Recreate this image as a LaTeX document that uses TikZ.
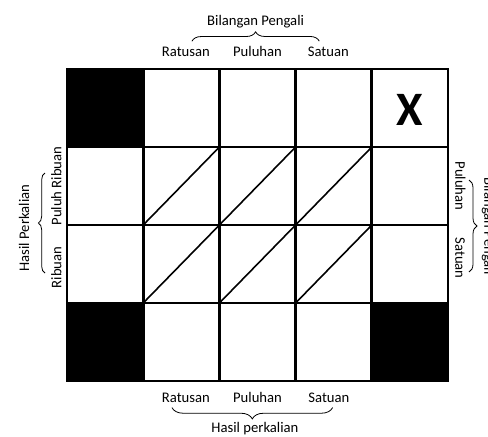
\documentclass[tikz,border=0pt]{standalone}
\usepackage{fontspec}
\setmainfont{Carlito}
\usepackage{tikz}
\usetikzlibrary{positioning, calc, decorations.pathreplacing}

\begin{document}
\begin{tikzpicture}[x=0.75pt, y=-0.75pt, font=\fontsize{11}{13}\selectfont,
    cell/.style={draw, line width=2.2pt, minimum width=57.15pt, minimum height=58.5pt, inner sep=0pt, outer sep=0pt},
    diag/.style={line width=1.2pt},
    lbl/.style={inner sep=1pt},
    brc/.style={decorate, decoration={brace, amplitude=#1}, line width=0.6pt}]
  \useasboundingbox (0,0) rectangle (488,436);
  \foreach \i in {0,...,4}
    \foreach \j in {0,...,3}
      \node[cell] (c\i\j) at ({105.1+76.2*\i},{108+78*\j}) {};
  \fill (c00.south west) rectangle (c00.north east);
  \fill (c03.south west) rectangle (c03.north east);
  \fill (c43.south west) rectangle (c43.north east);
  \foreach \i in {1,2,3}
    \foreach \j in {1,2}
      \draw[diag] (c\i\j.south west) -- (c\i\j.north east);
  \node[font=\fontsize{36}{40}\selectfont\bfseries] (kali) at ([yshift=-1.5pt]c40) {X};

  \node[lbl, above=7.8pt of c20] (pt) {Puluhan};
  \node[lbl, base left=15pt of pt] (rt) {Ratusan};
  \node[lbl, base right=17pt of pt] (st) {Satuan};
  \draw[brc=7pt] ([xshift=4.5pt,yshift=3.5pt]rt.north) -- ([xshift=-6.75pt,yshift=3.5pt]st.north)
    node[lbl, midway, above=8.3pt] (bp) {Bilangan Pengali};

  \node[lbl, below=7pt of c23] (pb) {Puluhan};
  \node[lbl, base left=15pt of pb] (rtb) {Ratusan};
  \node[lbl, base right=17.5pt of pb] (stb) {Satuan};
  \draw[brc=8.5pt] ([xshift=2.8pt,yshift=-2.8pt]stb.south) -- ([xshift=-10.5pt,yshift=-2.8pt]rtb.south)
    node[lbl, midway, below=10pt, xshift=2pt] (hb) {Hasil perkalian};

  \node[lbl, rotate=90, anchor=south] (pr) at ([xshift=-3pt]c01.west) {Puluh Ribuan};
  \node[lbl, rotate=90, anchor=south] (rib) at ([xshift=-3pt,yshift=-2.6pt]c02.west) {Ribuan};
  \coordinate (lb1) at ([xshift=-16.5pt,yshift=-6.75pt]c02.west);
  \coordinate (lb2) at ([xshift=-16.5pt,yshift=9.75pt]c01.west);
  \draw[brc=5pt] (lb1) -- (lb2);
  \node[lbl, rotate=90, anchor=south] (hp) at ($(lb1)!0.5!(lb2)+(-10.7pt,-3.75pt)$) {Hasil Perkalian};

  \node[lbl, rotate=-90, anchor=south] (rpl) at ([xshift=4.3pt]c41.east) {Puluhan};
  \node[lbl, rotate=-90, anchor=south] (rst) at ([xshift=4.3pt,yshift=4.5pt]c42.east) {Satuan};
  \coordinate (rb1) at ([xshift=15.75pt,yshift=4.5pt]c41.east);
  \coordinate (rb2) at ([xshift=15.75pt,yshift=-6pt]c42.east);
  \draw[brc=6pt] (rb1) -- (rb2);
  \node[lbl, rotate=-90, anchor=south] (rbp) at ($(rb1)!0.5!(rb2)+(8.5pt,0)$) {Bilangan Pengali};
\end{tikzpicture}
\end{document}
